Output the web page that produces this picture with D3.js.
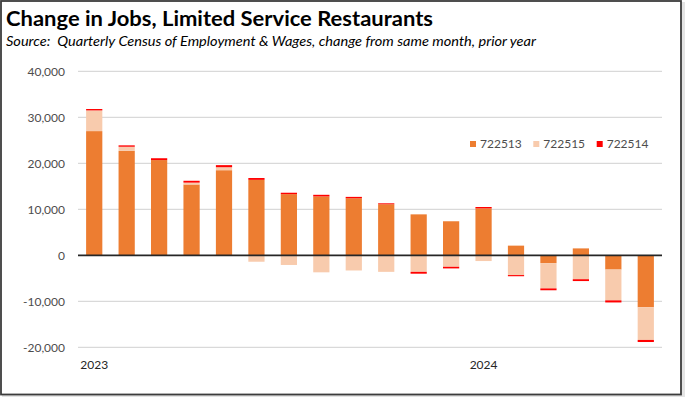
<!DOCTYPE html>
<html>
<head>
<meta charset="utf-8">
<script src="https://cdn.jsdelivr.net/npm/d3@7"></script>
<style>
  html, body { margin: 0; padding: 0; background: #fff; }
  svg { display: block; }
  .tick text { font-family: Lato, "Open Sans", sans-serif; }
</style>
</head>
<body>
<div id="chart"></div>
<script>
// months Jan 2023 – Jun 2024
const months = ['2023-01','2023-02','2023-03','2023-04','2023-05','2023-06','2023-07','2023-08','2023-09',
                '2023-10','2023-11','2023-12','2024-01','2024-02','2024-03','2024-04','2024-05','2024-06'];
const seriesKeys = ['722513', '722515', '722514'];
const jobs722513 = [27000, 22700, 20700, 15400, 18500, 16400, 13300, 12800, 12400, 11100, 8900, 7400, 10200, 2100, -1700, 1500, -3100, -11300];
const jobs722515 = [4500, 900, -100, 400, 650, -1400, -2100, -3700, -3300, -3600, -3600, -2500, -1250, -4300, -5500, -5200, -6700, -7100];
const jobs722514 = [300, 300, 400, 400, 450, 400, 300, 350, 300, 200, -400, -350, 300, -250, -400, -400, -450, -450];
const yTicks = [-20000, -10000, 0, 10000, 20000, 30000, 40000];

const colors = { '722513': '#ed7d31', '722515': '#f8cbad', '722514': '#ff0000' };

const width = 685, height = 397;
const plotLeft = 78, plotRight = 662, plotTop = 71.3, plotBottom = 347.3;

const rows = months.map((m, i) => ({
  month: m,
  '722513': jobs722513[i],
  '722515': jobs722515[i],
  '722514': jobs722514[i]
}));

const svg = d3.select('#chart').append('svg')
    .attr('width', width)
    .attr('height', height);

// outer frame with slight shadow
svg.append('rect')
    .attr('x', 2).attr('y', 2).attr('width', width - 2).attr('height', height - 2)
    .attr('fill', '#e4e4e4');
svg.append('rect')
    .attr('x', 1).attr('y', 1).attr('width', 680).attr('height', 393.5)
    .attr('fill', '#fff')
    .attr('stroke', '#3c3c3c')
    .attr('stroke-width', 1.8);

svg.append('text')
    .attr('x', 6).attr('y', 26)
    .attr('font-family', 'Lato, "Open Sans", sans-serif')
    .attr('font-weight', 'bold')
    .attr('font-size', 20)
    .attr('fill', '#000')
    .attr('textLength', 427)
    .attr('lengthAdjust', 'spacingAndGlyphs')
    .text('Change in Jobs, Limited Service Restaurants');

svg.append('text')
    .attr('x', 6).attr('y', 46)
    .attr('font-family', 'Lato, "Open Sans", sans-serif')
    .attr('font-style', 'italic')
    .attr('font-size', 12.5)
    .attr('fill', '#000')
    .style('white-space', 'pre')
    .attr('textLength', 530)
    .attr('lengthAdjust', 'spacingAndGlyphs')
    .text('Source:  Quarterly Census of Employment & Wages, change from same month, prior year');

const x = d3.scaleBand()
    .domain(months)
    .range([plotLeft, plotRight])
    .paddingInner(0.5)
    .paddingOuter(0.25);

const y = d3.scaleLinear()
    .domain([-20000, 40000])
    .range([plotBottom, plotTop]);

const fmt = d3.formatLocale({ decimal: '.', thousands: ',', grouping: [3], currency: ['$', ''], minus: '-' }).format(',');

// gridlines
svg.append('g')
  .selectAll('line')
  .data(yTicks.filter(d => d !== 0))
  .join('line')
    .attr('x1', plotLeft).attr('x2', plotRight)
    .attr('y1', d => y(d)).attr('y2', d => y(d))
    .attr('stroke', '#d9d9d9')
    .attr('stroke-width', 1.2);

// y axis labels
svg.append('g')
    .attr('transform', `translate(${plotLeft},0)`)
    .call(d3.axisLeft(y).tickValues(yTicks).tickFormat(fmt).tickSize(0).tickPadding(13))
    .call(g => g.select('.domain').remove())
    .call(g => g.selectAll('text').attr('font-size', 12).attr('fill', '#4d4d4d'));

// stacked bars
const stack = d3.stack().keys(seriesKeys).offset(d3.stackOffsetDiverging);
const stacked = stack(rows);

svg.append('g')
  .selectAll('g')
  .data(stacked)
  .join('g')
    .attr('fill', d => colors[d.key])
  .selectAll('rect')
  .data(d => d)
  .join('rect')
    .attr('x', d => x(d.data.month))
    .attr('width', x.bandwidth())
    .attr('y', d => y(Math.max(d[0], d[1])))
    .attr('height', d => Math.abs(y(d[0]) - y(d[1])));

// zero line
svg.append('line')
    .attr('x1', plotLeft).attr('x2', plotRight)
    .attr('y1', y(0)).attr('y2', y(0))
    .attr('stroke', '#262626')
    .attr('stroke-width', 1.8);

// x axis: year labels at January
svg.append('g')
    .attr('transform', 'translate(0,360)')
    .call(d3.axisBottom(x)
      .tickValues(months.filter(m => m.endsWith('-01')))
      .tickFormat(m => m.slice(0, 4))
      .tickSize(0).tickPadding(0))
    .call(g => g.select('.domain').remove())
    .call(g => g.selectAll('text').attr('font-size', 12).attr('fill', '#262626'));

// legend
const legendX = [470, 533.3, 596.7];
const legend = svg.append('g')
  .selectAll('g')
  .data(seriesKeys)
  .join('g')
    .attr('transform', (d, i) => `translate(${legendX[i]},141)`);
legend.append('rect')
    .attr('width', 6).attr('height', 6)
    .attr('fill', d => colors[d]);
legend.append('text')
    .attr('x', 10).attr('y', 7.3)
    .attr('font-family', 'Lato, "Open Sans", sans-serif')
    .attr('font-size', 12)
    .attr('fill', '#4d4d4d')
    .text(d => d);
</script>
</body>
</html>
